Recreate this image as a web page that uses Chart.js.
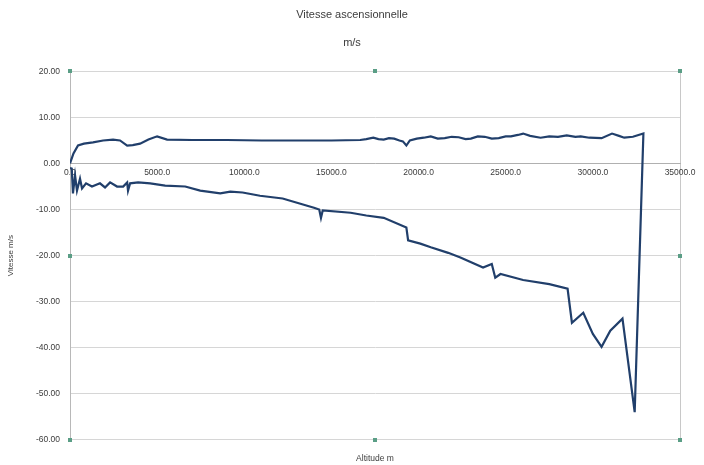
<!DOCTYPE html>
<html>
<head>
<meta charset="utf-8">
<title>Vitesse ascensionnelle</title>
<script src="https://cdn.jsdelivr.net/npm/chart.js@4/dist/chart.umd.min.js"></script>
<style>
  html, body { margin: 0; padding: 0; background: #ffffff; }
  #c { display: block; }
</style>
</head>
<body>
<canvas id="c" width="704" height="465"></canvas>
<script>
// Ascent: altitude (m) and vertical speed (m/s)
const ascentAltitude = [0, 200, 460, 800, 1320, 1900, 2470, 2870, 3280, 3600, 4020, 4500, 5000, 5570,
  7000, 9000, 11000, 13000, 15000, 16650, 17000, 17400, 17700, 18000, 18300, 18600, 18900, 19100,
  19300, 19500, 19900, 20300, 20700, 21100, 21500, 21900, 22300, 22700, 23000, 23400, 23800, 24200,
  24600, 25000, 25300, 25700, 26000, 26400, 27000, 27500, 28000, 28500, 29000, 29300, 29800, 30500,
  31100, 31500, 31800, 32300, 32900];
const ascentSpeed = [0, 2.2, 3.9, 4.3, 4.6, 5.0, 5.2, 5.0, 3.9, 4.0, 4.3, 5.2, 5.9, 5.2,
  5.1, 5.1, 5.0, 5.0, 5.0, 5.1, 5.3, 5.6, 5.3, 5.2, 5.5, 5.4, 5.0, 4.8,
  3.9, 5.0, 5.4, 5.6, 5.9, 5.4, 5.5, 5.8, 5.7, 5.3, 5.4, 5.9, 5.8, 5.4,
  5.5, 5.9, 5.9, 6.2, 6.5, 6.0, 5.6, 5.9, 5.8, 6.1, 5.8, 5.9, 5.6, 5.5,
  6.5, 6.0, 5.6, 5.8, 6.5];

// Descent: altitude (m, decreasing) and vertical speed (m/s)
const descentAltitude = [32400, 31700, 31000, 30500, 30000, 29450, 28800, 28550, 27500, 26000, 24700,
  24400, 24200, 23700, 22400, 21700, 20700, 20100, 19400, 19300, 18000, 17000, 16100, 14500, 14400,
  14300, 14000, 12200, 10900, 9900, 9200, 8620, 7470, 6610, 5460, 4600, 3910, 3450, 3330, 3280,
  3050, 2700, 2300, 2010, 1720, 1260, 920, 690, 575, 400, 290, 170, 100, 0];
const descentSpeed = [-54, -33.7, -36.3, -39.8, -37, -32.4, -34.6, -27.2, -26.2, -25.3, -24,
  -24.8, -21.8, -22.6, -20.4, -19.4, -18.2, -17.4, -16.7, -13.9, -11.8, -11.3, -10.7, -10.2, -11.8,
  -10.0, -9.6, -7.6, -7.0, -6.3, -6.1, -6.5, -5.9, -5.0, -4.8, -4.3, -4.1, -4.3, -5.9, -4.1,
  -5.0, -5.0, -4.1, -5.2, -4.3, -5.0, -4.3, -5.4, -3.3, -5.9, -2.6, -6.5, -1.1, -1.0];

const yTicks = { min: -60, max: 20, step: 10 };
const xTicks = { min: 0, max: 35000, step: 5000 };

const altitude = ascentAltitude.concat(descentAltitude);
const speed = ascentSpeed.concat(descentSpeed);
const points = altitude.map((a, i) => ({ x: a, y: speed[i] }));

const FONT = "'Liberation Sans', Arial, sans-serif";
const TEXT = '#3c3c3c';

// Small frame handles around the plot area
const handles = {
  id: 'handles',
  afterDraw(chart) {
    const { ctx, chartArea: a } = chart;
    const cx = (a.left + a.right) / 2, cy = (a.top + a.bottom) / 2;
    const spots = [[a.left, a.top], [cx, a.top], [a.right, a.top], [a.left, cy], [a.right, cy],
      [a.left, a.bottom], [cx, a.bottom], [a.right, a.bottom]];
    ctx.save();
    ctx.fillStyle = '#5a9e86';
    spots.forEach(([x, y]) => ctx.fillRect(Math.round(x) - 2, Math.round(y) - 2, 4, 4));
    ctx.restore();
  }
};

new Chart(document.getElementById('c'), {
  type: 'scatter',
  data: {
    datasets: [{
      data: points,
      showLine: true,
      borderColor: '#213f6b',
      borderWidth: 2.2,
      pointRadius: 0,
      tension: 0,
      fill: false
    }]
  },
  options: {
    responsive: false,
    animation: false,
    devicePixelRatio: 1,
    layout: { padding: 0 },
    plugins: {
      legend: { display: false },
      tooltip: { enabled: false },
      title: {
        display: true,
        text: 'Vitesse ascensionnelle',
        color: TEXT,
        font: { family: FONT, size: 11, weight: 'normal' },
        padding: { top: 8, bottom: 10 }
      },
      subtitle: {
        display: true,
        text: 'm/s',
        color: TEXT,
        font: { family: FONT, size: 11, weight: 'normal' },
        padding: { top: 5, bottom: 22 }
      }
    },
    scales: {
      x: {
        type: 'linear',
        position: { y: 0 },
        min: xTicks.min,
        max: xTicks.max,
        ticks: {
          stepSize: xTicks.step,
          autoSkip: false,
          maxRotation: 0,
          padding: 4,
          color: TEXT,
          font: { family: FONT, size: 8.5 },
          callback: v => Number(v).toFixed(1)
        },
        grid: {
          drawTicks: false,
          lineWidth: 1,
          color: c => (c.tick && c.tick.value === xTicks.max) ? '#c8c8c8' : 'rgba(0,0,0,0)'
        },
        border: { display: true, color: '#b0b0b0', width: 1 }
      },
      xTitle: {
        type: 'linear',
        position: 'bottom',
        min: xTicks.min,
        max: xTicks.max,
        ticks: { display: false },
        grid: { display: false, drawTicks: false },
        border: { display: false },
        title: {
          display: true,
          text: 'Altitude m',
          color: TEXT,
          font: { family: FONT, size: 8.5 },
          padding: { top: 14, bottom: 1 }
        }
      },
      y: {
        type: 'linear',
        position: 'left',
        min: yTicks.min,
        max: yTicks.max,
        afterFit: s => { s.width = 70; },
        ticks: {
          stepSize: yTicks.step,
          padding: 10,
          color: TEXT,
          font: { family: FONT, size: 8.5 },
          callback: v => Number(v).toFixed(2)
        },
        grid: { drawTicks: false, color: '#d6d6d6', lineWidth: 1 },
        border: { display: true, color: '#b8b8b8', width: 1 },
        title: {
          display: true,
          text: 'Vitesse m/s',
          color: TEXT,
          font: { family: FONT, size: 8 },
          padding: { top: 6, bottom: 0 }
        }
      },
      yRight: {
        type: 'linear',
        position: 'right',
        min: yTicks.min,
        max: yTicks.max,
        afterFit: s => { s.width = 24; },
        ticks: { display: false },
        grid: { display: false, drawTicks: false },
        border: { display: false }
      }
    }
  },
  plugins: [handles]
});
</script>
</body>
</html>
